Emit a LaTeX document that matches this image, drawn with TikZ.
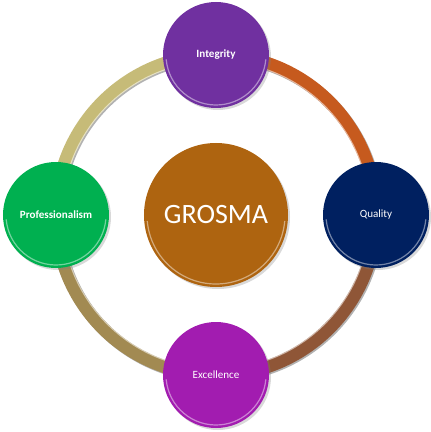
\documentclass[tikz,border=0pt]{standalone}
\usepackage{fontspec}
\setmainfont{Carlito}
\usetikzlibrary{shadows,backgrounds}

\definecolor{hubcol}{HTML}{AE6410}
\definecolor{integcol}{HTML}{7030A0}
\definecolor{qualcol}{HTML}{002060}
\definecolor{exccol}{HTML}{A21CB0}
\definecolor{profcol}{HTML}{00B050}
\definecolor{arcTR}{HTML}{C65A1E}
\definecolor{arcBR}{HTML}{8F5637}
\definecolor{arcBL}{HTML}{A28A52}
\definecolor{arcTL}{HTML}{C6BB78}

\begin{document}
\begin{tikzpicture}[x=0.75pt,y=0.75pt,
    bubble/.style={circle,fill=#1,text=white,inner sep=0pt,minimum size=79.5pt,
        font=\fontsize{8.3}{10}\selectfont,
        drop shadow={shadow xshift=1.5pt,shadow yshift=-1.5pt,opacity=.3}},
    hub/.style={bubble=#1,minimum size=108pt,font=\fontsize{21}{25}\selectfont},
    ring/.style={draw=#1,line width=9.75pt},
    ringshade/.style={draw=black!30,line width=9.75pt,transform canvas={xshift=1pt,yshift=-1pt}},
    glint/.style={draw=white,opacity=.55,line width=.8pt,transform canvas={scale=.962}},
    rim/.style={white,opacity=.45,line width=.9pt}]
    \useasboundingbox (-216,-217) rectangle (215,215);

    % hub and the four values
    \node(hub) at (0,0) [hub=hubcol] {GROSMA};
    \node(integ) at (90:160) [bubble=integcol,font=\fontsize{8.3}{10}\selectfont\bfseries] {Integrity};
    \node(qual) at (0:160) [bubble=qualcol] {Quality};
    \node(exc) at (-90:160) [bubble=exccol] {Excellence};
    \node(prof) at (180:160) [bubble=profcol,font=\fontsize{8.3}{10}\selectfont\bfseries] {Professionalism};

    % glossy rims
    \foreach \n/\r in {integ/50,qual/50,exc/50,prof/50,hub/69}
        \draw[rim] ([shift={(185:\r)}]\n.center) arc (185:355:\r);

    % ring behind the circles
    \begin{scope}[on background layer]
        \foreach \a/\b/\c in {integ/qual/arcTR,qual/exc/arcBR,exc/prof/arcBL,prof/integ/arcTL}{
            \draw[ringshade] (\a.center) to[bend left=45] (\b.center);
            \draw[ring=\c] (\a.center) to[bend left=45] (\b.center);
            \draw[glint] (\a.center) to[bend left=45] (\b.center);
        }
    \end{scope}
\end{tikzpicture}
\end{document}
